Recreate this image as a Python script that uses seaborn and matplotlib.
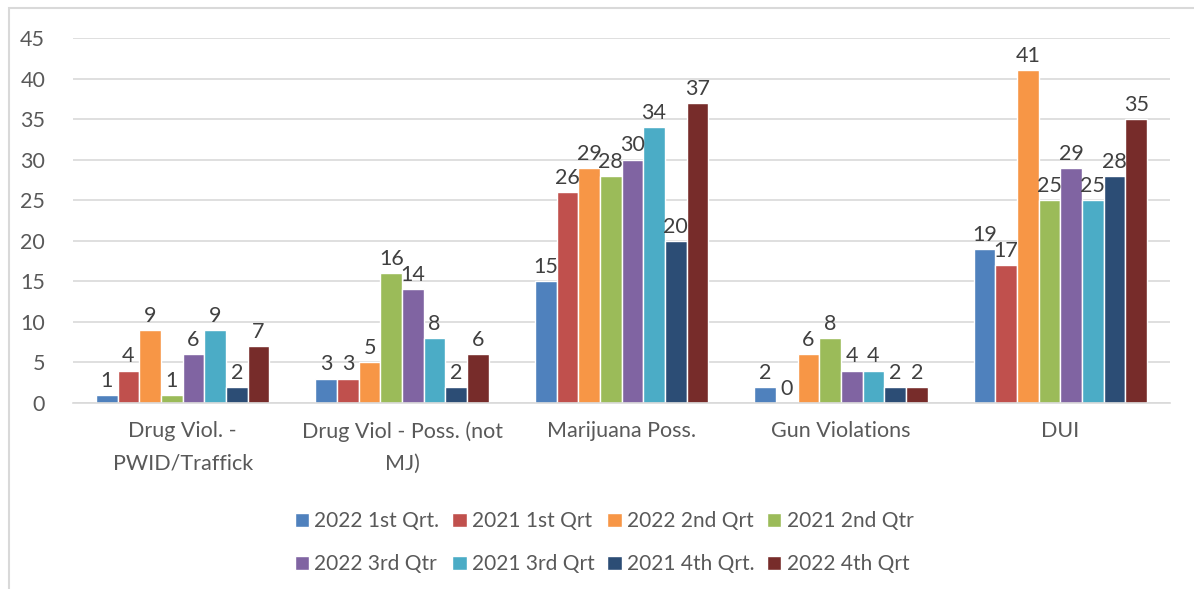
import matplotlib
matplotlib.use('Agg')
import pandas as pd
import matplotlib.pyplot as plt
import seaborn as sns
from matplotlib.patches import Rectangle

categories = ['Drug Viol. -\nPWID/Traffick', 'Drug Viol - Poss. (not\nMJ)', 'Marijuana Poss.',
              'Gun Violations', 'DUI']
series = ['2022 1st Qrt.', '2021 1st Qrt', '2022 2nd Qrt', '2021 2nd Qtr',
          '2022 3rd Qtr', '2021 3rd Qrt', '2021 4th Qrt.', '2022 4th Qrt']
q1_2022 = [1, 3, 15, 2, 19]
q1_2021 = [4, 3, 26, 0, 17]
q2_2022 = [9, 5, 29, 6, 41]
q2_2021 = [1, 16, 28, 8, 25]
q3_2022 = [6, 14, 30, 4, 29]
q3_2021 = [9, 8, 34, 4, 25]
q4_2021 = [2, 2, 20, 2, 28]
q4_2022 = [7, 6, 37, 2, 35]
colors = ['#4F81BD', '#C0504D', '#F79646', '#9BBB59', '#8064A2', '#4BACC6', '#2C4D75', '#772C2A']

values = [q1_2022, q1_2021, q2_2022, q2_2021, q3_2022, q3_2021, q4_2021, q4_2022]
rows = []
for s, vals in zip(series, values):
    for c, v in zip(categories, vals):
        rows.append({'Category': c, 'Series': s, 'Count': v})
df = pd.DataFrame(rows)

sns.set_style('white')
plt.rcParams['font.family'] = ['Lato', 'DejaVu Sans']

fig = plt.figure(figsize=(11.94, 5.89), dpi=100)
ax = fig.add_axes([0.0611, 0.3158, 0.9189, 0.6197])
sns.barplot(data=df, x='Category', y='Count', hue='Series', palette=colors,
            width=0.79, saturation=1, ax=ax, legend=True)

ax.set_ylim(0, 45)
ax.set_yticks(range(0, 50, 5))
ax.yaxis.grid(True, color='#D9D9D9', linewidth=1.2)
ax.set_axisbelow(True)
for side in ['top', 'right', 'left']:
    ax.spines[side].set_visible(False)
ax.spines['bottom'].set_color('#D9D9D9')
ax.spines['bottom'].set_linewidth(1.2)
ax.tick_params(axis='y', length=0, pad=20, labelsize=15.5, labelcolor='#595959')
ax.tick_params(axis='x', length=0, pad=13, labelsize=15.5, labelcolor='#595959')
ax.set_xlabel('')
ax.set_ylabel('')
for lbl in ax.get_xticklabels():
    lbl.set_linespacing(1.75)

for c in ax.containers:
    ax.bar_label(c, fontsize=15.5, color='#404040', padding=3)

# legend filled row by row like the original
handles, labels = ax.get_legend_handles_labels()
order = [0, 4, 1, 5, 2, 6, 3, 7]
ax.legend([handles[i] for i in order], [labels[i] for i in order],
          loc='center', bbox_to_anchor=(0.484, -0.383),
          ncol=4, frameon=False, fontsize=15, labelcolor='#595959',
          handlelength=0.7, handleheight=0.7, handletextpad=0.25,
          columnspacing=0.6, labelspacing=1.1)

fig.patches.append(Rectangle((9 / 1194, -0.01), 1.0, 1 - 8 / 589 + 0.01,
                             transform=fig.transFigure, fill=False,
                             edgecolor='#D9D9D9', linewidth=1.5))

fig.savefig('out.png', dpi=100)
